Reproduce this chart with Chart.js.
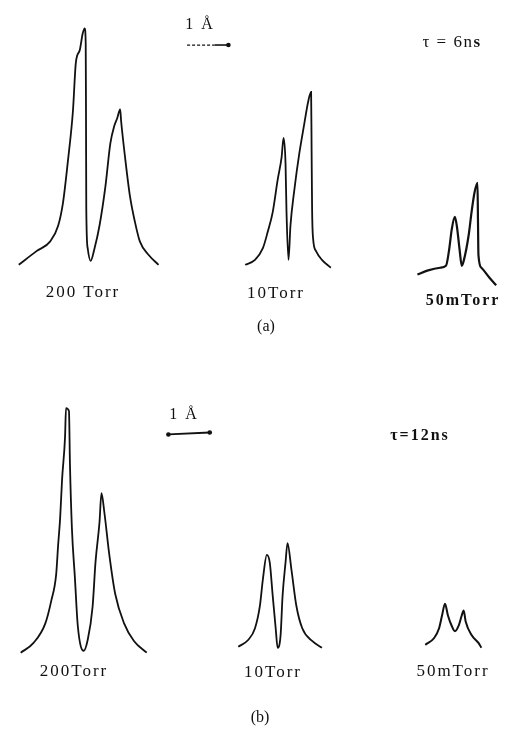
<!DOCTYPE html>
<html>
<head>
<meta charset="utf-8">
<script src="https://cdn.jsdelivr.net/npm/chart.js@4/dist/chart.umd.min.js"></script>
<style>
  body { margin: 0; background: #fff; }
  #page { position: relative; width: 511px; height: 735px; overflow: hidden; }
  canvas { position: absolute; left: 0; }
  .lbl {
    position: absolute;
    transform: translate(-50%, -50%);
    white-space: nowrap;
    font-family: "Liberation Serif", "DejaVu Serif", serif;
    font-size: 16px;
    letter-spacing: 2px;
    color: #111;
  }
</style>
</head>
<body>
<div id="page">
  <canvas id="chartA" width="511" height="345" style="top:0"></canvas>
  <canvas id="chartB" width="511" height="375" style="top:360px"></canvas>

  <div class="lbl" style="left:200px;top:24px">1 Å</div>
  <div class="lbl" style="left:452px;top:42px;font-size:17px;letter-spacing:1.5px">τ = 6n<b>s</b></div>
  <div class="lbl" style="left:83px;top:292px;font-size:17px">200 Torr</div>
  <div class="lbl" style="left:276px;top:293px;font-size:17px">10Torr</div>
  <div class="lbl" style="left:463px;top:300px;font-weight:bold">50mTorr</div>
  <div class="lbl" style="left:266px;top:326px;letter-spacing:0">(a)</div>

  <div class="lbl" style="left:184px;top:414px">1 Å</div>
  <div class="lbl" style="left:420px;top:435px;font-weight:bold">τ=12ns</div>
  <div class="lbl" style="left:74px;top:671px;font-size:17px">200Torr</div>
  <div class="lbl" style="left:273px;top:672px;font-size:17px">10Torr</div>
  <div class="lbl" style="left:453px;top:671px;font-size:17px">50mTorr</div>
  <div class="lbl" style="left:260px;top:717px;letter-spacing:0">(b)</div>
</div>

<script>
// wavelength scan position (arb. units) and intensity above baseline (arb. units)

// (a) tau = 6 ns
const a200X = [15, 33, 47, 55, 60, 65, 70, 73, 77, 80, 82, 83, 83.3, 83.6, 85, 88, 92, 97, 103, 108, 112, 115, 118, 119, 123, 128, 133, 138, 147, 157];
const a200Y = [1, 15, 25, 41, 65, 108, 158, 208, 221, 238, 243, 228, 158, 58, 18, 5, 18, 41, 81, 125, 143, 151, 160, 148, 111, 71, 45, 25, 11, 1];

const a10X = [245, 255, 263, 268, 273, 278, 282, 284, 286, 287, 289, 291, 295, 300, 305, 309, 312, 312.5, 313, 314, 317, 323, 332];
const a10Y = [1, 6, 18, 35, 55, 88, 111, 131, 105, 55, 6, 41, 78, 115, 145, 168, 178, 118, 58, 28, 15, 6, -2];

const a50mX = [420, 430, 443, 449, 452, 455, 458, 460, 463, 465, 467, 472, 475, 478, 481, 481.5, 482, 485, 493, 500];
const a50mY = [-9, -5, -2, 0, 15, 38, 50, 41, 15, 0, 5, 31, 55, 75, 85, 48, 11, -2, -12, -20];

const aBarX = [186, 214, 228];
const aBarY = [226, 226, 226];

// (b) tau = 12 ns
const b200X = [17, 30, 42, 48, 53, 55, 57, 59, 62, 63, 66, 67, 69, 72, 75, 81, 85, 90, 93, 97, 99, 102, 107, 113, 122, 132, 145];
const b200Y = [0, 10, 30, 53, 80, 110, 137, 177, 220, 250, 247, 193, 127, 77, 27, 2, 13, 47, 93, 133, 163, 143, 100, 60, 30, 12, 0];

const b10X = [238, 248, 255, 260, 263, 267, 270, 273, 276, 278, 281, 283, 286, 288, 292, 297, 303, 313, 323];
const b10Y = [6, 13, 25, 48, 75, 100, 92, 58, 25, 5, 18, 58, 92, 112, 85, 48, 25, 12, 5];

const b50mX = [428, 437, 442, 445, 448, 451, 455, 458, 462, 465, 467, 469, 475, 482, 485];
const b50mY = [8, 15, 25, 38, 50, 38, 27, 22, 28, 38, 43, 32, 18, 10, 5];

const bBarX = [167, 209];
const bBarY = [223, 225];

const ink = "#111";

function pts(xs, ys) {
  return xs.map((x, i) => ({ x: x, y: ys[i] }));
}

function profile(label, xs, ys, width) {
  return {
    label: label,
    data: pts(xs, ys),
    borderColor: ink,
    borderWidth: width || 1.8,
    pointRadius: 0,
    cubicInterpolationMode: "monotone",
    fill: false,
  };
}

function makeChart(id, datasets, yMin, yMax) {
  return new Chart(document.getElementById(id), {
    type: "line",
    data: { datasets: datasets },
    options: {
      responsive: false,
      animation: false,
      events: [],
      layout: { padding: 0 },
      plugins: { legend: { display: false }, tooltip: { enabled: false } },
      scales: {
        x: { type: "linear", min: 0, max: 511, display: false },
        y: { type: "linear", min: yMin, max: yMax, display: false },
      },
    },
  });
}

makeChart("chartA", [
  profile("200 Torr", a200X, a200Y),
  profile("10 Torr", a10X, a10Y),
  profile("50 mTorr", a50mX, a50mY, 2.2),
  {
    label: "1 A bar (dashed)",
    data: pts(aBarX.slice(0, 2), aBarY.slice(0, 2)),
    borderColor: ink,
    borderWidth: 1.2,
    borderDash: [3, 2],
    pointRadius: 0,
  },
  {
    label: "1 A bar",
    data: pts(aBarX.slice(1), aBarY.slice(1)),
    borderColor: ink,
    borderWidth: 1.6,
    pointRadius: [0, 2.3],
    pointBackgroundColor: ink,
    pointBorderWidth: 0,
  },
], -77, 268);

makeChart("chartB", [
  profile("200 Torr", b200X, b200Y),
  profile("10 Torr", b10X, b10Y),
  profile("50 mTorr", b50mX, b50mY, 2),
  {
    label: "1 A bar",
    data: pts(bBarX, bBarY),
    borderColor: ink,
    borderWidth: 1.8,
    pointRadius: 2.3,
    pointBackgroundColor: ink,
    pointBorderWidth: 0,
  },
], -80, 295);
</script>
</body>
</html>
